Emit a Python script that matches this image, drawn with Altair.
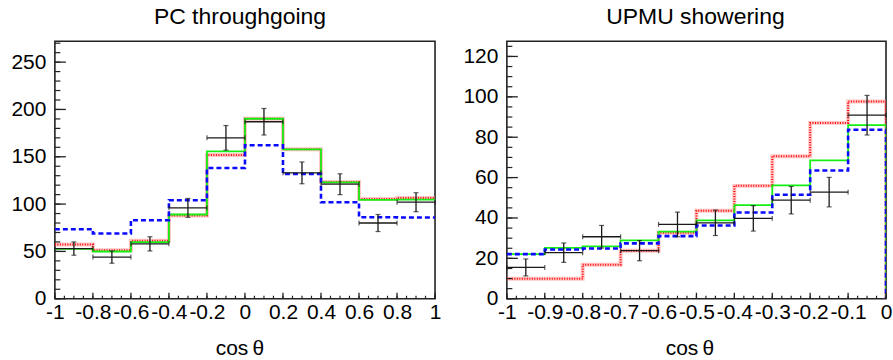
import altair as alt
import pandas as pd
import numpy as np

FONT = "Liberation Sans"

# ---------------- data: PC throughgoing ----------------
pc_edges = [-1.0, -0.8, -0.6, -0.4, -0.2, 0.0, 0.2, 0.4, 0.6, 0.8, 1.0]
pc_data = [53, 44, 58, 96, 170, 187, 133, 121, 80, 102]
pc_err = [7, 6.5, 7.5, 10, 13, 14, 11.5, 11, 9, 10]
pc_green = [52.7, 49.9, 59.8, 89, 155.8, 190.2, 157.9, 123, 104.4, 104.8]
pc_red = [57.3, 51.3, 61.2, 87.9, 151.9, 190.2, 157.9, 123.4, 105.5, 106.5]
pc_blue = [73.5, 68.9, 83, 104.1, 138.2, 162.1, 131.9, 102, 86.1, 85.8]
pc_xticks = [-1, -0.8, -0.6, -0.4, -0.2, 0, 0.2, 0.4, 0.6, 0.8, 1]
pc_yticks = [0, 50, 100, 150, 200, 250]

# ---------------- data: UPMU showering ----------------
up_edges = [-1.0, -0.9, -0.8, -0.7, -0.6, -0.5, -0.4, -0.3, -0.2, -0.1, 0.0]
up_data = [15.5, 22.8, 30.7, 23.8, 36.8, 37.6, 39.8, 48.8, 52.8, 90.9]
up_err = [4.2, 4.8, 5.6, 5, 6.1, 6.3, 6.3, 6.8, 7.3, 9.8]
up_green = [22.1, 25.2, 25.9, 28.9, 33.2, 38.8, 46.4, 56.1, 68.5, 86]
up_blue = [22.1, 24.4, 24.9, 27.4, 31, 36.3, 42.7, 51.5, 63.5, 83.7]
up_red = [9.9, 9.9, 16.8, 23.8, 32.7, 43.6, 55.9, 70.6, 87.1, 97.7]
up_xticks = [-1, -0.9, -0.8, -0.7, -0.6, -0.5, -0.4, -0.3, -0.2, -0.1, 0]
up_yticks = [0, 20, 40, 60, 80, 100, 120]


def step_df(edges, vals, drop_end=False):
    xs = list(edges)
    ys = list(vals) + [vals[-1]]
    if drop_end:
        xs = xs + [edges[-1]]
        ys = ys + [0]
    return pd.DataFrame({"x": xs, "y": ys, "i": range(len(xs))})


def panel(title, edges, data, err, green, red, blue, xticks, yticks,
          xminor_step, yminor_step, ymax, W, H, drop_end, title_dx, axis_title_x):
    xs = alt.Scale(domain=[edges[0], edges[-1]], nice=False, zero=False)
    ys = alt.Scale(domain=[0, ymax], nice=False, zero=True)
    xaxis = alt.Axis(values=xticks, ticks=False, tickSize=0, domain=False, grid=False,
                     labelExpr="toString(datum.value)", labelFont=FONT, labelFontSize=21,
                     labelColor="black", labelPadding=3, labelOverlap=False,
                     labelFlush=False, labelBound=False,
                     title="cos\u2009\u03b8", titleFont=FONT, titleFontSize=21,
                     titleFontWeight="normal", titleColor="black", titlePadding=15,
                     titleX=axis_title_x, titleAnchor="start", titleAlign="center")
    yaxis = alt.Axis(values=yticks, ticks=False, tickSize=0, domain=False, grid=False,
                     labelFont=FONT, labelFontSize=21, labelColor="black",
                     labelPadding=9, labelOverlap=False, labelBound=False, labelFlush=False,
                     title=None, minExtent=49, maxExtent=49)

    def X(f):
        return alt.X(f, type="quantitative", scale=xs, axis=xaxis)

    def Y(f):
        return alt.Y(f, type="quantitative", scale=ys, axis=yaxis)

    layers = []
    # red: pale thick band plus dotted red
    rdf = step_df(edges, red, drop_end)
    layers.append(alt.Chart(rdf).mark_line(interpolate="step-after", color="#ff8080",
                                           strokeWidth=4, opacity=0.45, clip=True)
                  .encode(x=X("x"), y=Y("y"), order="i:Q"))
    layers.append(alt.Chart(rdf).mark_line(interpolate="step-after", color="#ff0000",
                                           strokeWidth=2, strokeDash=[1, 1.5], clip=True)
                  .encode(x=X("x"), y=Y("y"), order="i:Q"))
    # green solid
    layers.append(alt.Chart(step_df(edges, green, drop_end))
                  .mark_line(interpolate="step-after", color="#14f014", strokeWidth=1.8, clip=True)
                  .encode(x=X("x"), y=Y("y"), order="i:Q"))
    # blue dashed
    layers.append(alt.Chart(step_df(edges, blue, drop_end))
                  .mark_line(interpolate="step-after", color="#0a0aff", strokeWidth=2.6,
                             strokeDash=[5, 3], clip=True)
                  .encode(x=X("x"), y=Y("y"), order="i:Q"))

    # data crosses
    ddf = pd.DataFrame({
        "lo": edges[:-1], "hi": edges[1:],
        "c": [(a + b) / 2 for a, b in zip(edges[:-1], edges[1:])],
        "v": data,
        "elo": [v - e for v, e in zip(data, err)],
        "ehi": [v + e for v, e in zip(data, err)],
    })
    col = "#1a1a1a"
    layers.append(alt.Chart(ddf).mark_rule(color=col, strokeWidth=1.3)
                  .encode(x=X("lo"), x2="hi", y=Y("v")))
    layers.append(alt.Chart(ddf).mark_rule(color=col, strokeWidth=1.3)
                  .encode(x=X("c"), y=Y("elo"), y2="ehi"))
    for f in ["elo", "ehi"]:
        layers.append(alt.Chart(ddf).mark_tick(color=col, orient="horizontal", size=5,
                                               thickness=1.2)
                      .encode(x=X("c"), y=Y(f)))
    for f in ["lo", "hi"]:
        layers.append(alt.Chart(ddf).mark_tick(color=col, orient="vertical", size=5,
                                               thickness=1.2)
                      .encode(x=X(f), y=Y("v")))

    # inward ticks
    ymaj = pd.DataFrame({"v": yticks})
    ymin = pd.DataFrame({"v": np.arange(0, ymax + 1e-9, yminor_step)})
    xmaj = pd.DataFrame({"v": xticks})
    xmin = pd.DataFrame({"v": np.round(np.arange(edges[0], edges[-1] + 1e-9, xminor_step), 4)})
    tc = "#222222"
    layers.append(alt.Chart(ymaj).mark_rule(color=tc, strokeWidth=1.3)
                  .encode(y=Y("v"), x=alt.value(0), x2=alt.value(11)))
    layers.append(alt.Chart(ymin).mark_rule(color=tc, strokeWidth=1.2)
                  .encode(y=Y("v"), x=alt.value(0), x2=alt.value(5.5)))
    layers.append(alt.Chart(xmaj).mark_rule(color=tc, strokeWidth=1.3)
                  .encode(x=X("v"), y=alt.value(H), y2=alt.value(H - 6)))
    layers.append(alt.Chart(xmin).mark_rule(color=tc, strokeWidth=1.2)
                  .encode(x=X("v"), y=alt.value(H), y2=alt.value(H - 3)))

    return alt.layer(*layers).properties(
        width=W, height=H,
        title=alt.TitleParams(title, font=FONT, fontSize=23, fontWeight="normal",
                              color="black", anchor="middle", offset=12, dx=title_dx),
    )


left = panel("PC throughgoing", pc_edges, pc_data, pc_err, pc_green, pc_red, pc_blue,
             pc_xticks, pc_yticks, 0.05, 10, 272, 381, 258, False, -5, 185)
right = panel("UPMU showering", up_edges, up_data, up_err, up_green, up_red, up_blue,
              up_xticks, up_yticks, 0.025, 5, 127.5, 380, 258, True, -1, 183)

chart = alt.hconcat(left, right, spacing=72, bounds="flush").properties(
    padding={"left": 5, "top": 5, "right": 0, "bottom": 0},
    background="white",
).configure_view(stroke="#222222", strokeWidth=1.6).configure_concat(spacing=72)

chart.save("out.html", embed_options={"renderer": "svg", "actions": False})
